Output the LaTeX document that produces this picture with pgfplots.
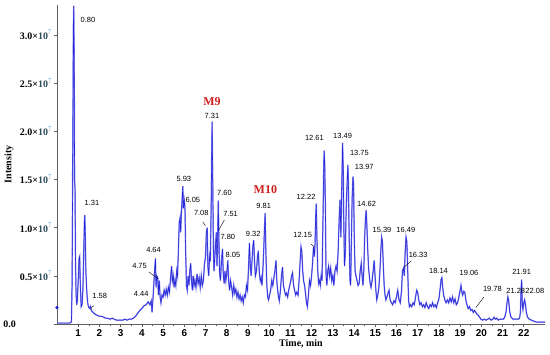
\documentclass[border=0pt]{standalone}
\usepackage{pgfplots}
\pgfplotsset{compat=1.18}
\usepackage{pgfplotstable}
\usepackage{fontspec}
\setmainfont{Liberation Serif}
\newfontfamily\arial{Liberation Sans}
\definecolor{trace}{RGB}{35,35,215}
\definecolor{tracelt}{RGB}{135,135,240}
\definecolor{tenc}{RGB}{45,75,95}
\definecolor{expc}{RGB}{90,160,200}
\definecolor{mred}{RGB}{205,30,30}
\definecolor{axgray}{RGB}{95,95,95}
\newcommand{\yl}[1]{\textbf{#1×}\textcolor{tenc}{\textbf{10}}\raisebox{0.45em}{\scriptsize\textcolor{expc}{7}}}
\pgfplotstableread{
t I
0.00 0.01
0.30 0.01
0.60 0.01
0.68 0.02
0.71 0.40
0.74 1.60
0.77 3.05
0.79 3.30
0.81 2.70
0.83 1.50
0.85 1.40
0.87 0.70
0.90 0.30
0.93 0.20
0.96 0.25
1.00 0.45
1.04 0.68
1.07 0.70
1.10 0.40
1.14 0.18
1.18 0.20
1.22 0.35
1.26 0.75
1.29 1.05
1.31 1.13
1.33 0.95
1.36 0.55
1.39 0.40
1.42 0.28
1.46 0.20
1.50 0.17
1.55 0.16
1.58 0.18
1.62 0.14
1.70 0.12
1.80 0.10
1.90 0.09
2.00 0.08
2.10 0.08
2.20 0.07
2.30 0.06
2.40 0.06
2.50 0.05
2.60 0.06
2.70 0.05
2.80 0.04
2.90 0.04
3.00 0.04
3.10 0.04
3.20 0.05
3.30 0.04
3.40 0.05
3.50 0.05
3.60 0.06
3.70 0.08
3.80 0.11
3.90 0.14
4.00 0.16
4.10 0.19
4.20 0.20
4.30 0.23
4.38 0.20
4.44 0.24
4.48 0.12
4.52 0.25
4.56 0.40
4.60 0.55
4.64 0.68
4.67 0.38
4.70 0.50
4.75 0.48
4.78 0.30
4.82 0.45
4.86 0.28
4.90 0.22
4.95 0.30
5.00 0.28
5.05 0.35
5.10 0.30
5.15 0.36
5.20 0.30
5.25 0.38
5.30 0.33
5.36 0.50
5.40 0.60
5.44 0.45
5.48 0.50
5.52 0.38
5.56 0.45
5.60 0.40
5.64 0.55
5.68 0.50
5.72 0.75
5.76 1.05
5.80 1.10
5.83 0.95
5.86 1.15
5.90 1.30
5.93 1.43
5.96 1.20
6.00 1.28
6.03 1.22
6.06 0.80
6.10 0.40
6.14 0.35
6.18 0.50
6.22 0.40
6.26 0.55
6.30 0.63
6.34 0.45
6.38 0.35
6.42 0.50
6.46 0.40
6.50 0.45
6.55 0.38
6.60 0.52
6.65 0.42
6.70 0.48
6.75 0.38
6.80 0.50
6.85 0.40
6.90 0.45
6.95 0.62
7.00 0.70
7.04 0.95
7.08 1.00
7.11 0.60
7.15 0.50
7.19 0.70
7.23 0.65
7.27 1.30
7.31 2.10
7.34 1.50
7.37 0.80
7.40 0.55
7.44 0.70
7.48 0.85
7.51 0.95
7.54 0.60
7.57 0.85
7.60 1.28
7.63 0.90
7.66 0.55
7.70 0.45
7.74 0.60
7.77 0.70
7.80 0.78
7.84 0.50
7.88 0.42
7.92 0.55
7.96 0.45
8.00 0.52
8.05 0.66
8.09 0.45
8.13 0.35
8.18 0.45
8.23 0.38
8.28 0.30
8.33 0.40
8.38 0.32
8.43 0.36
8.48 0.28
8.53 0.33
8.58 0.26
8.63 0.30
8.68 0.24
8.73 0.28
8.78 0.22
8.83 0.30
8.88 0.28
8.93 0.40
8.98 0.35
9.03 0.60
9.07 0.84
9.11 0.60
9.15 0.50
9.19 0.65
9.23 0.80
9.27 0.87
9.31 0.65
9.35 0.50
9.40 0.55
9.45 0.70
9.49 0.76
9.53 0.55
9.58 0.45
9.62 0.48
9.66 0.40
9.70 0.55
9.74 0.75
9.78 1.00
9.81 1.15
9.85 0.70
9.89 0.40
9.93 0.28
9.97 0.25
10.02 0.30
10.07 0.35
10.12 0.45
10.17 0.40
10.22 0.48
10.27 0.55
10.32 0.66
10.36 0.45
10.40 0.35
10.44 0.28
10.48 0.24
10.53 0.35
10.58 0.50
10.63 0.59
10.67 0.40
10.72 0.35
10.77 0.30
10.82 0.32
10.87 0.28
10.92 0.35
10.97 0.40
11.02 0.45
11.06 0.50
11.10 0.53
11.15 0.40
11.20 0.35
11.25 0.30
11.30 0.33
11.36 0.30
11.41 0.45
11.46 0.65
11.50 0.80
11.54 0.75
11.58 0.55
11.62 0.45
11.67 0.40
11.72 0.30
11.76 0.22
11.80 0.18
11.85 0.30
11.90 0.45
11.95 0.40
12.00 0.50
12.05 0.65
12.09 0.80
12.13 0.70
12.16 0.82
12.19 1.10
12.22 1.25
12.25 0.90
12.29 0.55
12.33 0.42
12.37 0.45
12.41 0.40
12.45 0.50
12.49 0.45
12.53 1.00
12.56 1.45
12.59 1.80
12.62 1.65
12.65 1.20
12.68 0.50
12.72 0.40
12.76 0.55
12.80 0.60
12.85 0.50
12.90 0.58
12.95 0.45
13.00 0.50
13.05 0.40
13.10 0.55
13.15 0.60
13.20 0.55
13.25 0.75
13.30 1.10
13.34 1.29
13.38 0.90
13.42 1.40
13.46 1.88
13.49 1.60
13.52 1.00
13.55 0.60
13.59 0.75
13.63 1.20
13.67 1.45
13.71 1.65
13.74 1.40
13.77 0.90
13.81 0.45
13.84 0.40
13.87 0.80
13.91 1.30
13.95 1.53
13.98 1.45
14.01 0.90
14.05 0.55
14.09 0.50
14.14 0.45
14.19 0.40
14.24 0.42
14.29 0.55
14.34 0.63
14.38 0.50
14.42 0.40
14.46 0.55
14.50 0.90
14.54 1.10
14.57 1.18
14.60 1.05
14.64 0.80
14.68 0.60
14.72 0.50
14.76 0.42
14.80 0.38
14.85 0.45
14.90 0.55
14.95 0.66
14.99 0.50
15.03 0.35
15.07 0.25
15.12 0.30
15.17 0.38
15.22 0.55
15.26 0.75
15.30 0.90
15.34 0.85
15.38 0.60
15.42 0.40
15.46 0.30
15.50 0.25
15.55 0.28
15.60 0.32
15.65 0.35
15.70 0.25
15.76 0.22
15.82 0.20
15.88 0.24
15.94 0.22
16.00 0.28
16.06 0.35
16.12 0.25
16.18 0.22
16.24 0.35
16.28 0.55
16.33 0.58
16.37 0.50
16.41 0.75
16.45 0.90
16.49 0.85
16.53 0.55
16.57 0.25
16.61 0.18
16.66 0.20
16.72 0.18
16.78 0.22
16.84 0.20
16.90 0.28
16.95 0.35
17.00 0.33
17.05 0.25
17.10 0.20
17.16 0.22
17.22 0.18
17.28 0.20
17.34 0.17
17.40 0.22
17.46 0.18
17.52 0.16
17.58 0.20
17.64 0.18
17.70 0.22
17.76 0.18
17.82 0.20
17.88 0.17
17.94 0.22
18.00 0.26
18.05 0.35
18.10 0.46
18.14 0.48
18.18 0.38
18.22 0.30
18.28 0.25
18.34 0.22
18.40 0.25
18.46 0.22
18.52 0.27
18.58 0.23
18.64 0.28
18.70 0.22
18.76 0.26
18.82 0.20
18.88 0.22
18.94 0.28
19.00 0.35
19.04 0.40
19.08 0.33
19.12 0.30
19.17 0.34
19.22 0.33
19.27 0.25
19.32 0.20
19.38 0.16
19.44 0.18
19.50 0.14
19.56 0.15
19.62 0.12
19.68 0.14
19.74 0.12
19.80 0.10
19.86 0.09
19.92 0.07
19.98 0.05
20.06 0.04
20.14 0.05
20.22 0.04
20.30 0.05
20.38 0.06
20.46 0.04
20.54 0.05
20.60 0.07
20.66 0.05
20.72 0.06
20.80 0.04
20.88 0.05
20.96 0.05
21.04 0.05
21.10 0.07
21.16 0.12
21.21 0.22
21.25 0.28
21.29 0.24
21.33 0.14
21.38 0.08
21.44 0.06
21.50 0.05
21.58 0.05
21.66 0.05
21.74 0.05
21.80 0.06
21.84 0.12
21.87 0.35
21.90 0.46
21.93 0.20
21.96 0.15
22.00 0.22
22.04 0.25
22.08 0.20
22.12 0.12
22.18 0.07
22.26 0.05
22.36 0.04
22.46 0.03
22.60 0.02
22.80 0.02
23.00 0.02
}\chrom
\begin{document}
\begin{tikzpicture}
\begin{axis}[
  name=ax,
  scale only axis,
  width=488bp, height=319bp,
  xmin=0, xmax=23, ymin=0, ymax=3.31,
  axis lines=left,
  axis line style={axgray, line width=0.8pt, -},
  xtick={1,...,22},
  ytick={0,0.5,1,1.5,2,2.5,3},
  yticklabels={\makebox[48bp][l]{\textbf{0.0}},\yl{0.5},\yl{1.0},\yl{1.5},\yl{2.0},\yl{2.5},\yl{3.0}},
  minor x tick num=1,
  tick style={axgray, line width=0.6pt},
  major tick length=3bp, minor tick length=2bp,
  tick align=outside,
  /pgf/number format/assume math mode=true,
  xticklabel style={font=\arial\bfseries\fontsize{10}{12}\selectfont, yshift=1bp},
  yticklabel style={font=\fontsize{10}{12}\selectfont, xshift=1bp},
  xlabel={\textbf{Time, min}},
  xlabel style={font=\fontsize{10}{12}\selectfont, yshift=4bp},
  ylabel={\textbf{Intensity}},
  ylabel style={font=\fontsize{10}{12}\selectfont, at={(axis description cs:0,0.5)}, anchor=center, yshift=48bp},
  clip=false,
]
\addplot[tracelt, line width=1.4pt] table[x=t,y=I] {\chrom};
\addplot[trace, line width=0.55pt] table[x=t,y=I] {\chrom};
\addplot[only marks, mark=*, mark size=1.4pt, trace] coordinates {(0,0.17)};
\begin{scope}[every node/.style={font=\arial\fontsize{7.5}{9}\selectfont, inner sep=0pt}]
\node at (axis cs:1.46,3.15) {0.80};
\node at (axis cs:1.65,1.26) {1.31};
\node at (axis cs:2.01,0.29) {1.58};
\node at (axis cs:3.97,0.31) {4.44};
\node at (axis cs:3.89,0.60) {4.75};
\node at (axis cs:4.55,0.77) {4.64};
\node at (axis cs:5.98,1.51) {5.93};
\node at (axis cs:6.40,1.29) {6.05};
\node at (axis cs:6.80,1.15) {7.08};
\node at (axis cs:7.30,2.16) {7.31};
\node at (axis cs:7.89,1.36) {7.60};
\node at (axis cs:8.18,1.14) {7.51};
\node at (axis cs:8.05,0.90) {7.80};
\node at (axis cs:8.29,0.72) {8.05};
\node at (axis cs:9.74,1.22) {9.81};
\node at (axis cs:9.25,0.93) {9.32};
\node at (axis cs:11.58,0.92) {12.15};
\node at (axis cs:11.74,1.32) {12.22};
\node at (axis cs:12.13,1.93) {12.61};
\node at (axis cs:13.46,1.95) {13.49};
\node at (axis cs:14.25,1.77) {13.75};
\node at (axis cs:14.48,1.63) {13.97};
\node at (axis cs:14.59,1.25) {14.62};
\node at (axis cs:15.32,0.98) {15.39};
\node at (axis cs:16.44,0.98) {16.49};
\node at (axis cs:17.02,0.72) {16.33};
\node at (axis cs:17.98,0.55) {18.14};
\node at (axis cs:19.42,0.53) {19.06};
\node at (axis cs:20.52,0.36) {19.78};
\node at (axis cs:21.62,0.34) {21.28};
\node at (axis cs:21.90,0.54) {21.91};
\node at (axis cs:22.52,0.34) {22.08};
\end{scope}
\node[font=\bfseries\fontsize{12}{14}\selectfont, text=mred, inner sep=0pt] at (axis cs:7.30,2.31) {M9};
\node[font=\bfseries\fontsize{12}{14}\selectfont, text=mred, inner sep=0pt] at (axis cs:9.82,1.39) {M10};
\begin{scope}[black, line width=0.4pt]
\draw (axis cs:1.75,0.19) -- (axis cs:1.59,0.17);
\draw (axis cs:4.33,0.54) -- (axis cs:4.76,0.47);
\draw (axis cs:6.87,1.06) -- (axis cs:7.00,1.02);
\draw (axis cs:7.89,1.08) -- (axis cs:7.61,0.97);
\draw (axis cs:11.97,0.83) -- (axis cs:12.13,0.80);
\draw (axis cs:16.68,0.65) -- (axis cs:16.36,0.59);
\draw (axis cs:20.12,0.28) -- (axis cs:19.74,0.17);
\end{scope}
\end{axis}
\pgfresetboundingbox
\path[use as bounding box] ([xshift=-57bp,yshift=-31bp]ax.south west) rectangle ([xshift=5bp,yshift=5bp]ax.north east);
\end{tikzpicture}
\end{document}
